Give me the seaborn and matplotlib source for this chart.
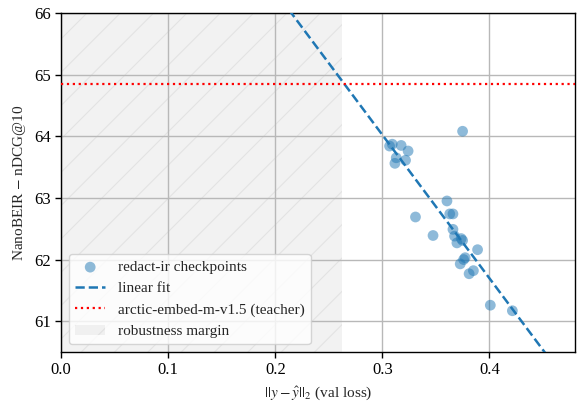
import numpy as np
import pandas as pd
import matplotlib
matplotlib.use("Agg")
import matplotlib.pyplot as plt
import seaborn as sns

val_loss = [0.3068, 0.3093, 0.3176, 0.3241, 0.3130, 0.3217, 0.3118,
            0.3750, 0.3604, 0.3630, 0.3660, 0.3310, 0.3660, 0.3474,
            0.3675, 0.3737, 0.3750, 0.3697, 0.3890, 0.3774, 0.3760,
            0.3728, 0.3851, 0.3811, 0.4009, 0.4215]
ndcg = [63.84, 63.87, 63.85, 63.76, 63.65, 63.61, 63.56,
        64.08, 62.95, 62.74, 62.74, 62.69, 62.49, 62.39,
        62.38, 62.34, 62.31, 62.27, 62.16, 62.03, 62.00,
        61.93, 61.82, 61.77, 61.26, 61.17]
teacher_score = 64.85
margin_end = 0.2625
x_limits = (0.0, 0.48)
y_limits = (60.5, 66.0)

df = pd.DataFrame({"val_loss": val_loss, "ndcg": ndcg})

sns.set_theme(style="ticks")
plt.rcParams["font.family"] = ["Liberation Serif", "DejaVu Serif"]
plt.rcParams["mathtext.fontset"] = "stix"
plt.rcParams["hatch.linewidth"] = 0.8

fig = plt.figure(figsize=(5.77, 4.01), dpi=100)
ax = fig.add_axes([0.106, 0.122, 0.8905, 0.846])

ax.axvspan(0, margin_end, facecolor="#e6e6e6", alpha=0.5, hatch="/",
           edgecolor="#d4d4d4", linewidth=0, zorder=0,
           label="robustness margin")

sns.scatterplot(data=df, x="val_loss", y="ndcg", ax=ax, s=60,
                color="#1f77b4", alpha=0.5, edgecolor="none",
                label="redact-ir checkpoints", zorder=3)

slope, intercept = np.polyfit(df["val_loss"], df["ndcg"], 1)
xs = np.linspace(x_limits[0], x_limits[1], 200)
sns.lineplot(x=xs, y=slope * xs + intercept, ax=ax, color="#1f77b4",
             linestyle="--", linewidth=1.8, label="linear fit", zorder=4)

ax.axhline(teacher_score, color="red", linestyle=":", linewidth=1.6,
           label="arctic-embed-m-v1.5 (teacher)", zorder=4)

ax.set_xlim(*x_limits)
ax.set_ylim(*y_limits)
ax.set_xticks([0.0, 0.1, 0.2, 0.3, 0.4])
ax.set_yticks([61, 62, 63, 64, 65, 66])
ax.grid(True, color="#b8b8b8", linewidth=1.0)
ax.set_axisbelow(True)
for s in ax.spines.values():
    s.set_color("black")
    s.set_linewidth(1.0)
ax.tick_params(labelsize=12, colors="black", length=4, width=1)

ax.set_xlabel(r"$||y - \hat{y}||_2$ (val loss)", fontsize=11)
ax.set_ylabel(r"NanoBEIR $-$ nDCG@10", fontsize=11)

h, l = ax.get_legend_handles_labels()
order = ["redact-ir checkpoints", "linear fit",
         "arctic-embed-m-v1.5 (teacher)", "robustness margin"]
hd = dict(zip(l, h))
ax.legend([hd[k] for k in order], order, loc="lower left", fontsize=11,
          frameon=True, framealpha=0.8, edgecolor="#cccccc", fancybox=True)

fig.savefig("out.png", dpi=100)
